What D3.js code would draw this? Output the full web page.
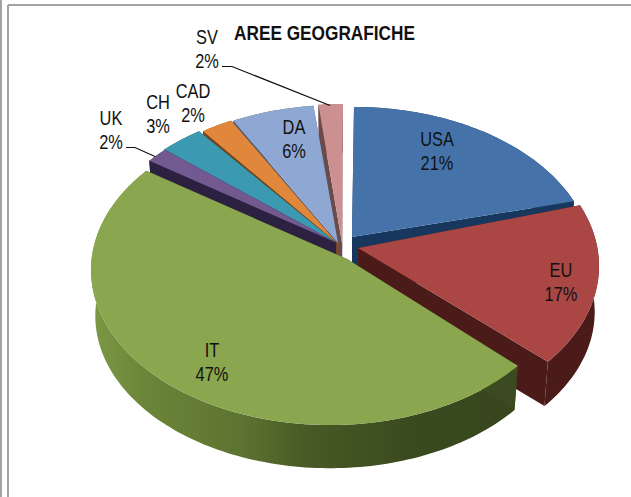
<!DOCTYPE html>
<html><head><meta charset="utf-8">
<script src="https://cdn.jsdelivr.net/npm/d3@7/dist/d3.min.js"></script>
<style>html,body{margin:0;padding:0;background:#fff}svg{display:block}
text{font-family:"Liberation Sans",Arial,sans-serif;fill:#111}</style>
</head><body><script>
const chartTitle = "AREE GEOGRAFICHE";
const categories = ["USA","EU","IT","UK","CH","CAD","DA","SV"];
const shares = [21.0,16.5,46.5,1.7,3.4,2.49,6.49,1.92];

// styling and layout, per category
const topColors  = {USA:"#4573a9",EU:"#aa4644",IT:"#8aa64e",UK:"#72598f",CH:"#3b9ab1",CAD:"#e0873b",DA:"#8fa8d3",SV:"#cd9090"};
const faceColors = {USA:"#17375e",EU:"#4a1b19",IT:"#3b4a20",UK:"#2c2140",CH:"#1e4a58",CAD:"#70431b",DA:"#4c5a72",SV:"#6a4a4a"};
const geometry = {
  USA:{ex:354,ey:262,ax:352,ay:237}, EU:{ex:360,ey:266,ax:358,ay:248}, IT:{ex:330,ey:270,ax:347,ay:259},
  UK:{ex:333,ey:260,ax:336,ay:242.5}, CH:{ex:332,ey:260,ax:336,ay:242.5}, CAD:{ex:336,ey:260,ax:337,ay:243},
  DA:{ex:338,ey:260,ax:338,ay:243}, SV:{ex:343,ey:259,ax:342,ay:243}
};
const labelAt = {USA:[437,139],EU:[561,270],IT:[212,350],UK:[111,118],CH:[158,102],CAD:[193,91],DA:[294,127],SV:[207,37]};
const leaders = {SV:[[222,66.5],[232,66.5],[330,105.5]], UK:[[126,147.5],[135,147.5],[155,156.5]]};
const paintOrder = ["SV","DA","CAD","CH","UK","USA","EU","IT"];
const RX=239, RY=155, DEPTH=46, SHRINK=0.018, Q=-0.158, NARROW=0.82;

const svg = d3.select("body").append("svg").attr("width",631).attr("height",497);

// frame
[[1,0,1,497],[8,5,8,497],[8,5,631,5]].forEach(l=>svg.append("line")
  .attr("x1",l[0]).attr("y1",l[1]).attr("x2",l[2]).attr("y2",l[3]).attr("stroke","#a3a3a3").attr("stroke-width",2));

const grad = svg.append("defs").append("linearGradient").attr("id","itWall")
  .attr("gradientUnits","userSpaceOnUse").attr("x1",91).attr("x2",520).attr("y1",0).attr("y2",0);
[[0,"#7c9944"],[0.12,"#6c8639"],[0.35,"#5d7331"],[0.5,"#485a25"],[0.75,"#3a4a1f"],[1,"#37461c"]]
  .forEach(s=>grad.append("stop").attr("offset",s[0]).attr("stop-color",s[1]));

const pie = d3.pie().sort(null).value((d,i)=>shares[i]);
const arcs = pie(categories);
const byName = Object.fromEntries(arcs.map(a=>[a.data,a]));

// circle angle -> point on the perspective-warped rim
function rim(g,angle,level){
  const u=Math.sin(angle), v=-Math.cos(angle), w=1+Q*v;
  const U=u*Math.sqrt(1-Q*Q)/w, V=(v+Q)/w;
  const k=1-SHRINK*level;
  return [g.ex+RX*U*k, g.ey+RY*V*k+DEPTH*level];
}
const line=d3.line();
function arcPts(a,g,level){
  const n=Math.max(8,Math.ceil((a.endAngle-a.startAngle)/0.02));
  return d3.range(n+1).map(i=>rim(g,a.startAngle+(a.endAngle-a.startAngle)*i/n,level));
}
paintOrder.forEach(name=>{
  const a=byName[name], g=geometry[name];
  const top=arcPts(a,g,0), bot=arcPts(a,g,1);
  const wall = name==="IT" ? "url(#itWall)" : faceColors[name];
  const apexT=[g.ax,g.ay], apexB=[g.ax,g.ay+DEPTH];
  const G=svg.append("g").attr("class","slice").datum(a);
  // outer wall and the two cut faces, then the top surface
  G.append("path").attr("d",line(top.concat(bot.slice().reverse()))+"Z").attr("fill",wall);
  G.append("path").attr("d",line([apexT,top[0],bot[0],apexB])+"Z").attr("fill",faceColors[name]);
  G.append("path").attr("d",line([apexT,top[top.length-1],bot[bot.length-1],apexB])+"Z").attr("fill",faceColors[name]);
  G.append("path").attr("d",line([apexT].concat(top))+"Z").attr("fill",topColors[name]);
});

// leaders
Object.values(leaders).forEach(p=>svg.append("path").attr("d",line(p)).attr("fill","none").attr("stroke","#111").attr("stroke-width",1.2));

// labels
categories.forEach((c,i)=>{
  const [x,y]=labelAt[c];
  const t=svg.append("text").attr("text-anchor","middle").attr("font-size",20)
    .attr("transform",`translate(${x},${y}) scale(${NARROW},1)`);
  t.append("tspan").attr("x",0).attr("y",7).text(c);
  t.append("tspan").attr("x",0).attr("y",31).text(Math.round(shares[i])+"%");
});
svg.append("text").attr("x",234).attr("y",40)
  .attr("font-size",20).attr("font-weight","bold")
  .attr("textLength",181).attr("lengthAdjust","spacingAndGlyphs").text(chartTitle);
</script></body></html>
